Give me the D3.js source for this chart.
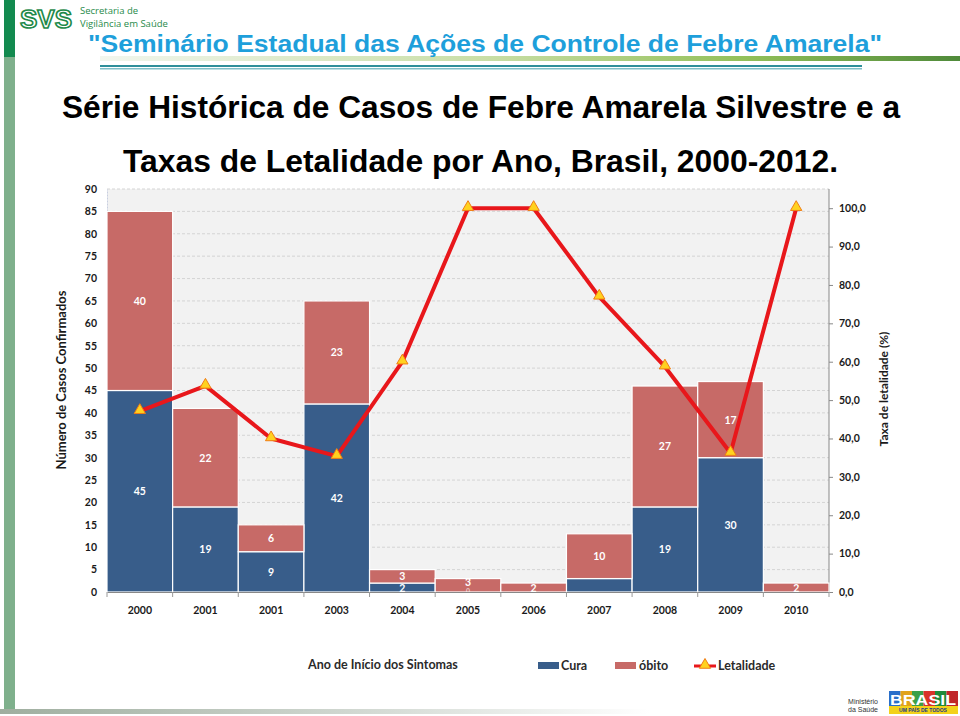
<!DOCTYPE html>
<html>
<head>
<meta charset="utf-8">
<script src="https://cdn.jsdelivr.net/npm/d3@7"></script>
<style>
  html, body { margin: 0; padding: 0; background: #fff; }
  svg { display: block; }
</style>
</head>
<body>
<svg id="chart" width="960" height="716"></svg>
<script>
// ---------- DATA ----------
const yearLabels = ["2000", "2001", "2001", "2003", "2004", "2005", "2006", "2007", "2008", "2009", "2010"];
const cura  = [45, 19, 9, 42, 2, 0, 0, 3, 19, 30, 0];
const obito = [40, 22, 6, 23, 3, 3, 2, 10, 27, 17, 2];
const curaLabels  = ["45", "19", "9", "42", "2", "0", "", "", "19", "30", ""];
const obitoLabels = ["40", "22", "6", "23", "3", "3", "2", "10", "27", "17", "2"];
const letalidade = [47.1, 53.7, 40.0, 35.4, 60.0, 100.0, 100.0, 76.9, 58.7, 36.2, 100.0];
const leftTicks  = [0, 5, 10, 15, 20, 25, 30, 35, 40, 45, 50, 55, 60, 65, 70, 75, 80, 85, 90];
const rightTicks = [0, 10, 20, 30, 40, 50, 60, 70, 80, 90, 100];

const svg = d3.select("#chart");

// ---------- PAGE DECOR ----------
svg.append("rect").attr("x", 4).attr("y", 0).attr("width", 11).attr("height", 57).attr("fill", "#138a4f");
svg.append("rect").attr("x", 4).attr("y", 57).attr("width", 11).attr("height", 656).attr("fill", "#7fb08c");

const defs = svg.append("defs");
const g1 = defs.append("linearGradient").attr("id", "hdrGrad");
g1.append("stop").attr("offset", "0%").attr("stop-color", "#f2f6ee");
g1.append("stop").attr("offset", "45%").attr("stop-color", "#c9dea6");
g1.append("stop").attr("offset", "75%").attr("stop-color", "#93c05a");
g1.append("stop").attr("offset", "100%").attr("stop-color", "#4f8a3a");
const g2 = defs.append("linearGradient").attr("id", "botGrad");
g2.append("stop").attr("offset", "0%").attr("stop-color", "#9fae9f");
g2.append("stop").attr("offset", "60%").attr("stop-color", "#d6dcd6");
g2.append("stop").attr("offset", "100%").attr("stop-color", "#ffffff");

svg.append("rect").attr("x", 100).attr("y", 56).attr("width", 860).attr("height", 5).attr("fill", "url(#hdrGrad)");
svg.append("rect").attr("x", 100).attr("y", 65).attr("width", 762).attr("height", 2).attr("fill", "#2f8f9a");
svg.append("rect").attr("x", 100).attr("y", 68).attr("width", 762).attr("height", 1.5).attr("fill", "#7fbfc8");
svg.append("rect").attr("x", 0).attr("y", 709).attr("width", 650).attr("height", 5).attr("fill", "url(#botGrad)");

// SVS logo
svg.append("text").attr("x", 20).attr("y", 28)
  .attr("font-family", "Liberation Sans, Arial, sans-serif").attr("font-weight", "bold")
  .attr("font-size", 25).attr("fill", "#fff").attr("stroke", "#1f8a4a").attr("stroke-width", 1.6)
  .attr("textLength", 52).attr("lengthAdjust", "spacingAndGlyphs").text("SVS");
svg.append("text").attr("x", 80).attr("y", 13.5)
  .attr("font-family", "Open Sans, sans-serif").attr("font-size", 9.5).attr("fill", "#1f8a4a")
  .text("Secretaria de");
svg.append("text").attr("x", 80).attr("y", 27)
  .attr("font-family", "Open Sans, sans-serif").attr("font-size", 9.5).attr("fill", "#1f8a4a")
  .text("Vigilância em Saúde");

// Header
svg.append("text").attr("x", 88).attr("y", 52)
  .attr("font-family", "Liberation Sans, Arial, sans-serif").attr("font-weight", "bold")
  .attr("font-size", 24).attr("fill", "#1e9fdb")
  .attr("textLength", 794).attr("lengthAdjust", "spacingAndGlyphs")
  .text("\"Seminário Estadual das Ações de Controle de Febre Amarela\"");

// Titles
svg.append("text").attr("x", 62).attr("y", 118)
  .attr("font-family", "Liberation Sans, Arial, sans-serif").attr("font-weight", "bold")
  .attr("font-size", 31).attr("fill", "#000")
  .attr("textLength", 838).attr("lengthAdjust", "spacingAndGlyphs")
  .text("Série Histórica de Casos de Febre Amarela Silvestre e a");
svg.append("text").attr("x", 123).attr("y", 172)
  .attr("font-family", "Liberation Sans, Arial, sans-serif").attr("font-weight", "bold")
  .attr("font-size", 31).attr("fill", "#000")
  .attr("textLength", 715).attr("lengthAdjust", "spacingAndGlyphs")
  .text("Taxas de Letalidade por Ano, Brasil, 2000-2012.");

// ---------- CHART ----------
const plot = { left: 107, right: 829, top: 189, bottom: 592 };
const idx = d3.range(yearLabels.length);
const x = d3.scaleBand().domain(idx).range([plot.left, plot.right]).paddingInner(0).paddingOuter(0);
const yL = d3.scaleLinear().domain([0, 90]).range([plot.bottom, plot.top]);
const yR = d3.scaleLinear().domain([0, 105]).range([plot.bottom, plot.top]);

const font = "Lato, Open Sans, sans-serif";

// plot background
svg.append("rect").attr("x", plot.left).attr("y", plot.top)
  .attr("width", plot.right - plot.left).attr("height", plot.bottom - plot.top).attr("fill", "#f2f2f2");

// grid lines
svg.append("g").selectAll("line").data(leftTicks.filter(d => d > 0)).join("line")
  .attr("x1", plot.left).attr("x2", plot.right)
  .attr("y1", d => yL(d)).attr("y2", d => yL(d))
  .attr("stroke", "#d4d4d4").attr("stroke-width", 1).attr("stroke-dasharray", "3,2");

// left axis
const axL = svg.append("g").attr("transform", `translate(${plot.left},0)`)
  .call(d3.axisLeft(yL).tickValues(leftTicks).tickSize(0).tickPadding(10));
axL.select(".domain").attr("stroke", "#c8cfe0").attr("stroke-dasharray", "2,1");
axL.selectAll("text").attr("font-family", font).attr("font-weight", "bold").attr("font-size", 10.5).attr("fill", "#1a1a1a");

// right axis
const axR = svg.append("g").attr("transform", `translate(${plot.right},0)`)
  .call(d3.axisRight(yR).tickValues(rightTicks).tickSize(4).tickPadding(6).tickFormat(d => d3.format(".1f")(d).replace(".", ",")));
axR.select(".domain").attr("stroke", "#888").attr("d", `M0,${plot.top}V${plot.bottom}`);
axR.selectAll(".tick line").attr("stroke", "#888");
axR.selectAll("text").attr("font-family", font).attr("font-weight", "bold").attr("font-size", 10.5).attr("fill", "#1a1a1a");

// bars
const stackData = idx.map(i => ({ i, cura: cura[i], obito: obito[i] }));
const series = d3.stack().keys(["cura", "obito"])(stackData);
const colors = { cura: "#385d8a", obito: "#c76a67" };
svg.append("g").selectAll("g").data(series).join("g")
  .attr("fill", s => colors[s.key])
  .selectAll("rect").data(s => s).join("rect")
  .attr("x", d => x(d.data.i))
  .attr("width", x.bandwidth())
  .attr("y", d => yL(d[1]))
  .attr("height", d => yL(d[0]) - yL(d[1]))
  .attr("stroke", "#ffffff").attr("stroke-width", 1.2);

// bar labels
const labelG = svg.append("g").attr("font-family", font).attr("font-weight", "bold")
  .attr("font-size", 10.5).attr("fill", "#ffffff").attr("text-anchor", "middle");
series.forEach(s => {
  const labs = s.key === "cura" ? curaLabels : obitoLabels;
  labelG.selectAll(null).data(s.filter(d => labs[d.data.i] !== "")).join("text")
    .attr("x", d => x(d.data.i) + x.bandwidth() / 2)
    .attr("y", d => {
      if (s.key === "cura" && d.data.cura === 0) return plot.bottom + 2;
      if (s.key === "obito" && d.data.cura === 0 && curaLabels[d.data.i] !== "") return yL((d[0] + d[1]) / 2) + 1;
      return yL((d[0] + d[1]) / 2) + 4;
    })
    .attr("font-size", d => (s.key === "cura" && d.data.cura === 0) ? 7 : 10.5)
    .attr("opacity", d => (s.key === "cura" && d.data.cura === 0) ? 0.6 : 1)
    .text(d => labs[d.data.i]);
});

// x axis
const axB = svg.append("g").attr("transform", `translate(0,${plot.bottom})`)
  .call(d3.axisBottom(x).tickFormat(i => yearLabels[i]).tickSize(0).tickPadding(15));
axB.select(".domain").attr("stroke", "#888");
axB.selectAll("text").attr("font-family", font).attr("font-weight", "bold").attr("font-size", 10.5).attr("fill", "#1a1a1a");
svg.append("g").selectAll("line").data(d3.range(yearLabels.length + 1)).join("line")
  .attr("x1", i => plot.left + i * x.step()).attr("x2", i => plot.left + i * x.step())
  .attr("y1", plot.bottom).attr("y2", plot.bottom + 5).attr("stroke", "#999");

// line
const line = d3.line().x((d, i) => x(i) + x.bandwidth() / 2).y(d => yR(d));
svg.append("path").datum(letalidade).attr("d", line)
  .attr("fill", "none").attr("stroke", "#e8171b").attr("stroke-width", 4).attr("stroke-linejoin", "round");
const tri = d3.symbol().type(d3.symbolTriangle).size(55);
svg.append("g").selectAll("path").data(letalidade).join("path")
  .attr("d", tri)
  .attr("transform", (d, i) => `translate(${x(i) + x.bandwidth() / 2},${yR(d) - 1})`)
  .attr("fill", "#ffd21f").attr("stroke", "#f07d14").attr("stroke-width", 1);

// axis titles
svg.append("text").attr("transform", "translate(66,380) rotate(-90)")
  .attr("text-anchor", "middle").attr("font-family", font).attr("font-weight", "bold")
  .attr("font-size", 13).attr("fill", "#1a1a1a").text("Número de Casos Confirmados");
svg.append("text").attr("transform", "translate(888,389) rotate(-90)")
  .attr("text-anchor", "middle").attr("font-family", font).attr("font-weight", "bold")
  .attr("font-size", 12).attr("fill", "#1a1a1a").text("Taxa de letalidade  (%)");
svg.append("text").attr("x", 308).attr("y", 669)
  .attr("font-family", font).attr("font-weight", "bold")
  .attr("font-size", 12.5).attr("fill", "#2a2a2a").text("Ano de Início dos Sintomas");

// legend
const leg = svg.append("g").attr("font-family", font).attr("font-weight", "bold").attr("font-size", 12.5).attr("fill", "#2a2a2a");
leg.append("rect").attr("x", 538).attr("y", 662).attr("width", 21).attr("height", 7).attr("fill", colors.cura);
leg.append("text").attr("x", 561).attr("y", 670).text("Cura");
leg.append("rect").attr("x", 615).attr("y", 662).attr("width", 21).attr("height", 7).attr("fill", colors.obito);
leg.append("text").attr("x", 639).attr("y", 670).text("óbito");
leg.append("line").attr("x1", 694).attr("x2", 716).attr("y1", 666).attr("y2", 666).attr("stroke", "#e8171b").attr("stroke-width", 3);
leg.append("path").attr("d", tri).attr("transform", "translate(705,665)").attr("fill", "#ffd21f").attr("stroke", "#f07d14");
leg.append("text").attr("x", 718).attr("y", 670).text("Letalidade");

// bottom logos
svg.append("text").attr("x", 878).attr("y", 704).attr("text-anchor", "end")
  .attr("font-family", "Liberation Sans, sans-serif").attr("font-size", 7).attr("fill", "#333").text("Ministério");
svg.append("text").attr("x", 878).attr("y", 712).attr("text-anchor", "end")
  .attr("font-family", "Liberation Sans, sans-serif").attr("font-size", 7).attr("fill", "#333").text("da Saúde");
const logo = svg.append("g");
const logoCols = ["#2a6fc9", "#e0a21a", "#3aa04a", "#d8332a", "#1f8a3a", "#c0262a"];
logoCols.forEach((c, i) => logo.append("rect").attr("x", 889 + i * 11.5).attr("y", 691).attr("width", 11.5).attr("height", 15).attr("fill", c));
logo.append("text").attr("x", 923).attr("y", 705).attr("text-anchor", "middle")
  .attr("font-family", "Liberation Sans, sans-serif").attr("font-weight", "bold").attr("font-size", 14)
  .attr("fill", "#fff").attr("textLength", 66).attr("lengthAdjust", "spacingAndGlyphs").text("BRASIL");
logo.append("rect").attr("x", 889).attr("y", 706).attr("width", 69).attr("height", 8).attr("fill", "#f3d21a");
logo.append("text").attr("x", 923).attr("y", 712).attr("text-anchor", "middle")
  .attr("font-family", "Liberation Sans, sans-serif").attr("font-weight", "bold").attr("font-size", 5)
  .attr("fill", "#1a3a8a").text("UM PAÍS DE TODOS");
</script>
</body>
</html>
